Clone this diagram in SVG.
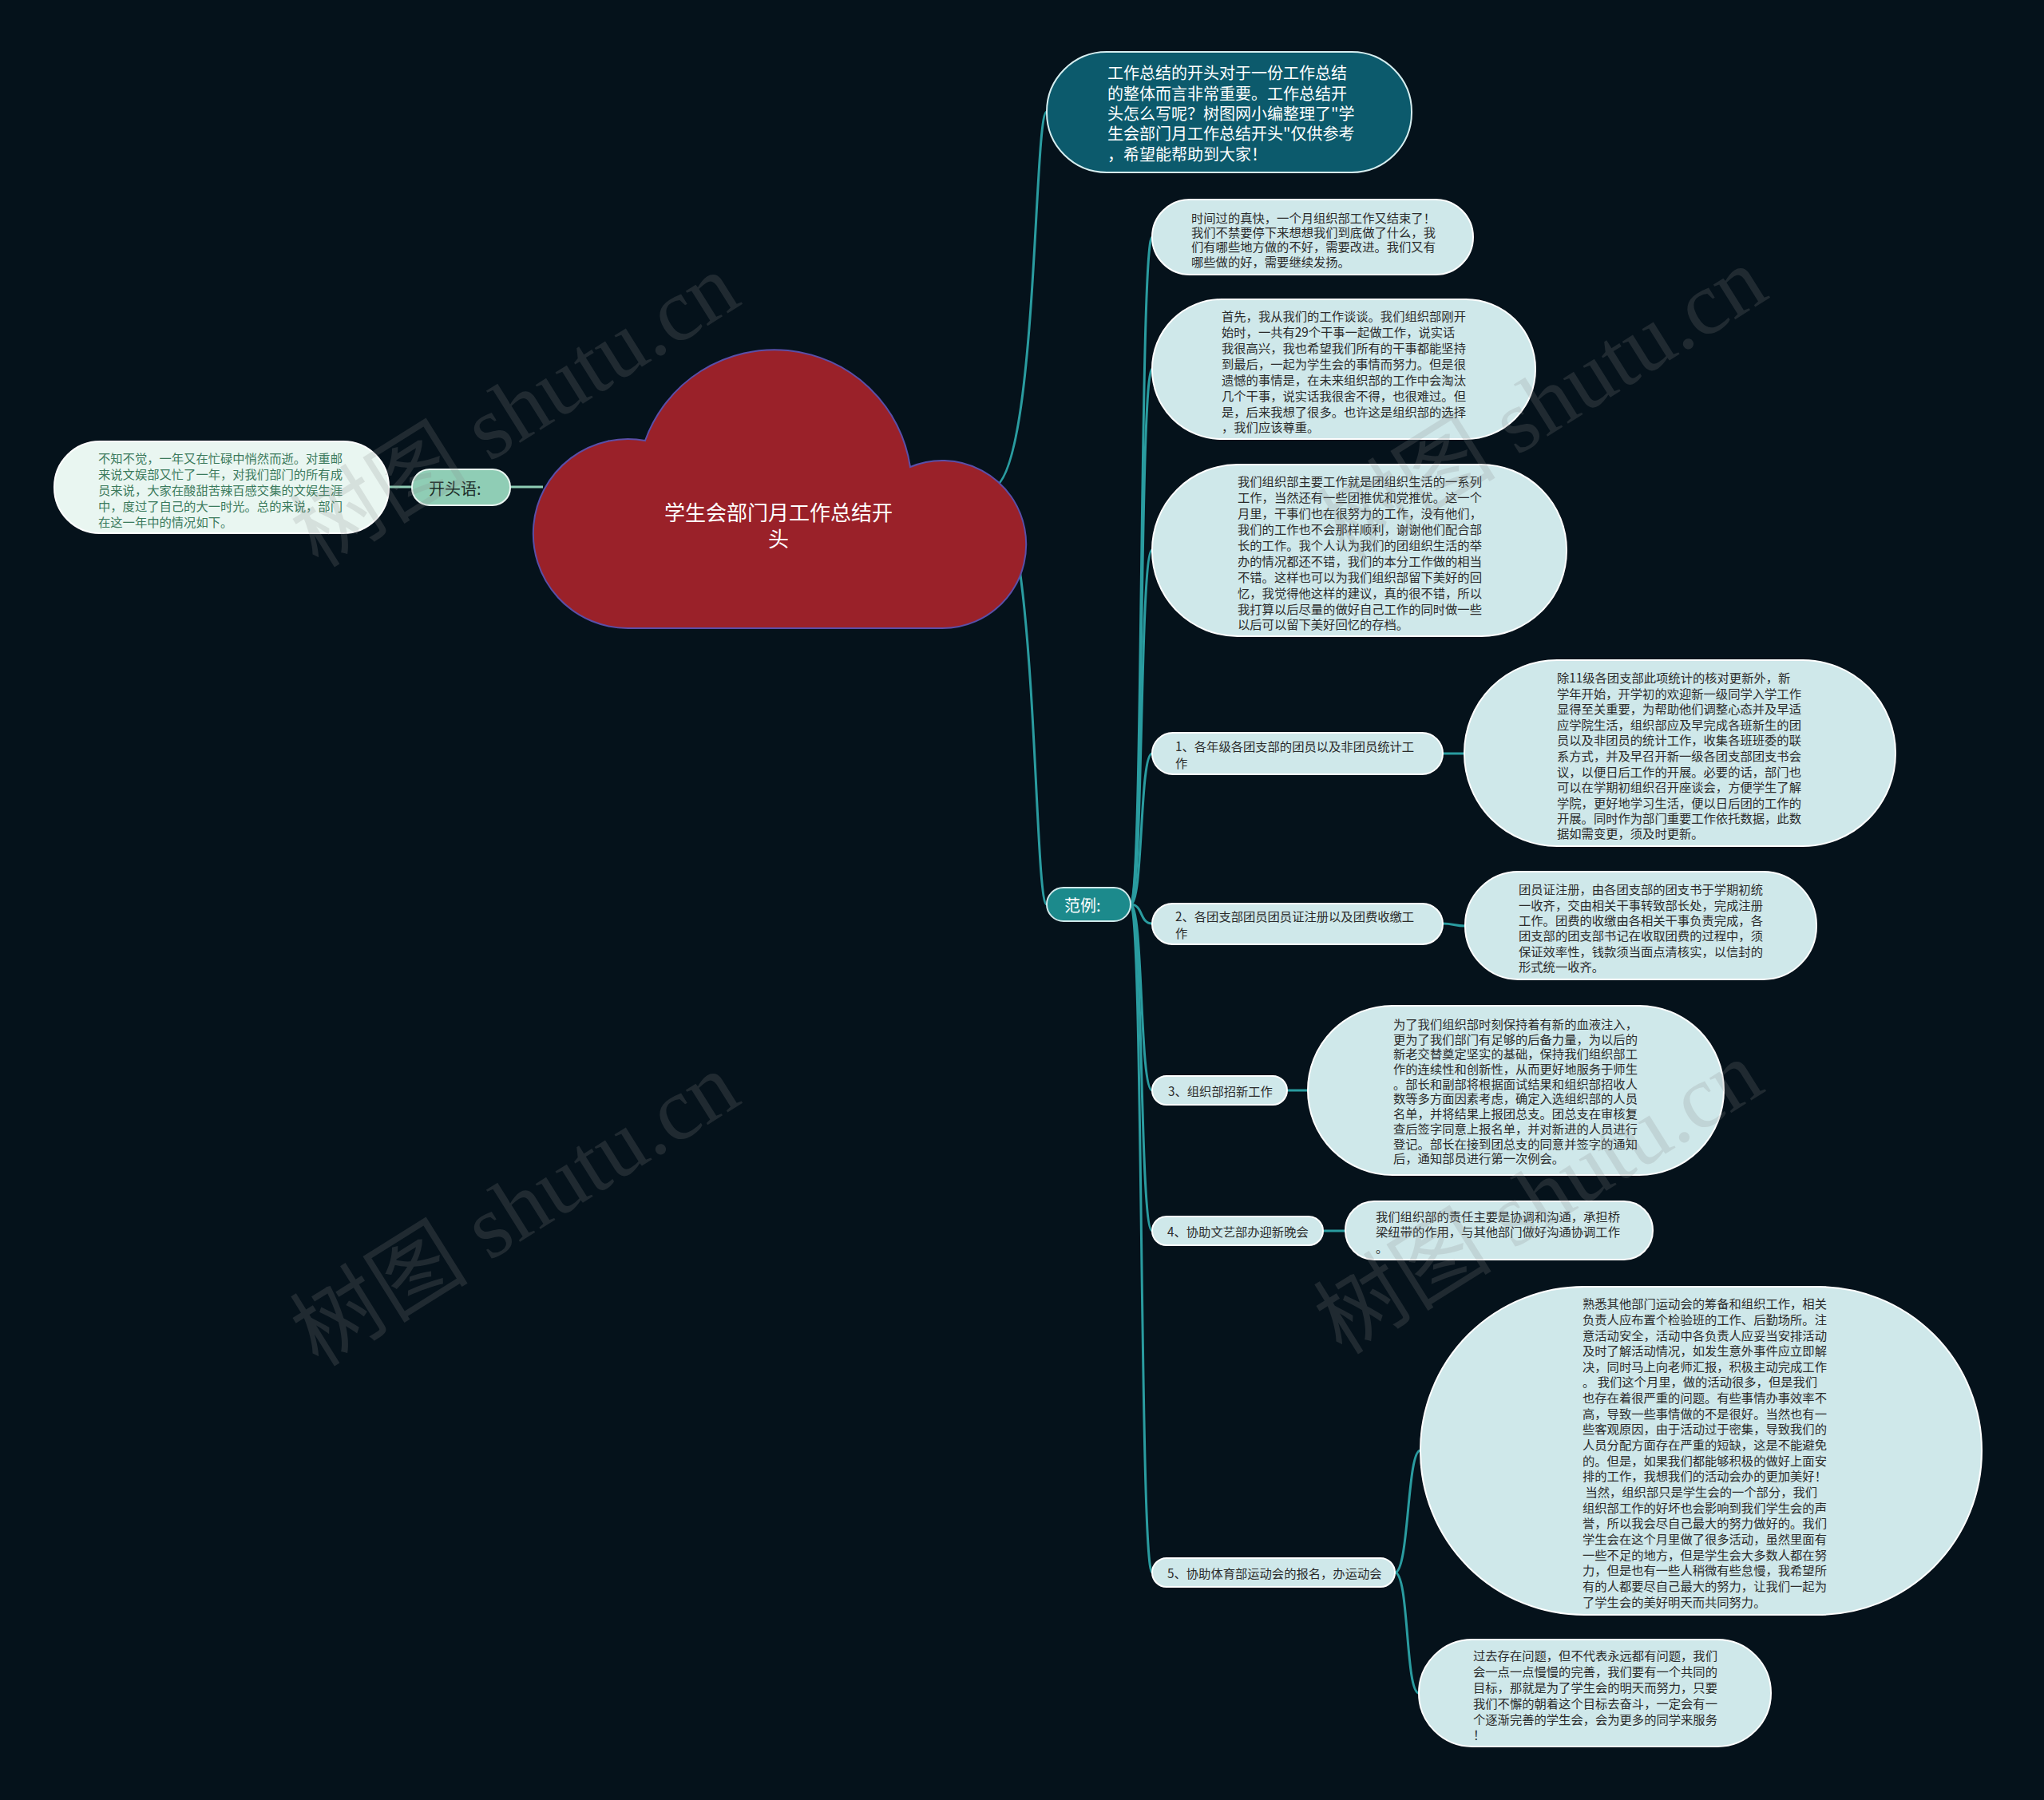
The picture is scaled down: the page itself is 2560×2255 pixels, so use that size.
<svg xmlns="http://www.w3.org/2000/svg" width="2560" height="2255" viewBox="0 0 2560 2255">
<style>
text{font-family:"Noto Sans CJK SC","Noto Sans",sans-serif;dominant-baseline:central}
.lt{fill:#cfe8ea;stroke:#ffffff;stroke-width:2}
.tx{font-size:15.3px;fill:#2b2b2b}
.wm{font-family:"Liberation Serif","Noto Sans CJK SC",serif;font-size:112px;fill:#8a8a8a;opacity:0.2}
.cn{fill:none;stroke:#2a9ca0;stroke-width:3}
</style>
<rect width="2560" height="2255" fill="#05121b"/>
<g id="connectors">
<path class="cn" d="M1240 612 C1300 612,1294 140,1311 140"/>
<path class="cn" d="M1240 612 C1300 612,1294 1133,1311 1133"/>
<path class="cn" d="M1416 1133 C1432 1133,1427 297,1443 297"/>
<path class="cn" d="M1416 1133 C1432 1133,1427 462,1443 462"/>
<path class="cn" d="M1416 1133 C1432 1133,1427 689,1443 689"/>
<path class="cn" d="M1416 1133 C1432 1133,1427 944,1443 944"/>
<path class="cn" d="M1416 1133 C1432 1133,1427 1157,1443 1157"/>
<path class="cn" d="M1416 1133 C1432 1133,1427 1366,1443 1366"/>
<path class="cn" d="M1416 1133 C1432 1133,1427 1542,1443 1542"/>
<path class="cn" d="M1416 1133 C1432 1133,1427 1970,1443 1970"/>
<path class="cn" d="M1807 944 L1834 944"/>
<path class="cn" d="M1807 1157 C1820 1157,1822 1160,1835 1160"/>
<path class="cn" d="M1612 1366 L1638 1366"/>
<path class="cn" d="M1657 1542 L1685 1542"/>
<path class="cn" d="M1747 1970 C1765 1970,1762 1817,1779 1817"/>
<path class="cn" d="M1747 1970 C1765 1970,1760 2121,1777 2121"/>
<path fill="none" stroke="#8fcdb5" stroke-width="3" d="M487 610 L516 610 M639 610 L680 610"/>
</g>
<g id="root">
<path d="M808 552 A172 172 0 0 1 1140 585 A105 105 0 1 1 1179 787 L787 787 A118.5 118.5 0 1 1 808 552 Z" fill="#9a2129" stroke="#5a4fa8" stroke-width="2"/>
<text x="975" y="640" text-anchor="middle" font-size="26" fill="#ffffff">学生会部门月工作总结开</text>
<text x="975" y="673" text-anchor="middle" font-size="26" fill="#ffffff">头</text>
</g>
<g id="intro">
<rect x="1311" y="65" width="457" height="151" rx="75" fill="#0c5a6c" stroke="#d6eef0" stroke-width="2"/>
<text font-size="20" fill="#ffffff"><tspan x="1387" y="90">工作总结的开头对于一份工作总结</tspan><tspan x="1387" y="116">的整体而言非常重要。工作总结开</tspan><tspan x="1387" y="141">头怎么写呢？树图网小编整理了"学</tspan><tspan x="1387" y="166">生会部门月工作总结开头"仅供参考</tspan><tspan x="1387" y="192">，希望能帮助到大家！</tspan></text>
</g>
<g id="opening">
<rect x="516" y="588" width="123" height="45" rx="22" fill="#8fcdb5" stroke="#e8f5f0" stroke-width="2"/>
<text x="537" y="611" font-size="20" fill="#1e2e2a">开头语:</text>
</g>
<g id="opening-text">
<rect x="68" y="553" width="419" height="115" rx="57" fill="#e9f6f1" stroke="#ffffff" stroke-width="2"/>
<text font-size="15.3" fill="#3b7a5c"><tspan x="123" y="573">不知不觉，一年又在忙碌中悄然而逝。对重邮</tspan><tspan x="123" y="593">来说文娱部又忙了一年，对我们部门的所有成</tspan><tspan x="123" y="613">员来说，大家在酸甜苦辣百感交集的文娱生涯</tspan><tspan x="123" y="633">中，度过了自己的大一时光。总的来说，部门</tspan><tspan x="123" y="653">在这一年中的情况如下。</tspan></text>
</g>
<g id="example">
<rect x="1311" y="1112" width="105" height="42" rx="21" fill="#1c8a8c" stroke="#cfe8ea" stroke-width="2"/>
<text x="1333" y="1133" font-size="20" fill="#ffffff">范例:</text>
</g>
<g id="t1">
<rect class="lt" x="1443" y="250" width="402" height="94" rx="47"/>
<text class="tx" font-size="14.9"><tspan x="1492" y="272">时间过的真快，一个月组织部工作又结束了！</tspan><tspan x="1492" y="290">我们不禁要停下来想想我们到底做了什么，我</tspan><tspan x="1492" y="308">们有哪些地方做的不好，需要改进。我们又有</tspan><tspan x="1492" y="327">哪些做的好，需要继续发扬。</tspan></text>
</g>
<g id="t2">
<rect class="lt" x="1443" y="375" width="480" height="175" rx="87"/>
<text class="tx"><tspan x="1530" y="395">首先，我从我们的工作谈谈。我们组织部刚开</tspan><tspan x="1530" y="415">始时，一共有29个干事一起做工作，说实话</tspan><tspan x="1530" y="435">我很高兴，我也希望我们所有的干事都能坚持</tspan><tspan x="1530" y="455">到最后，一起为学生会的事情而努力。但是很</tspan><tspan x="1530" y="475">遗憾的事情是，在未来组织部的工作中会淘汰</tspan><tspan x="1530" y="495">几个干事，说实话我很舍不得，也很难过。但</tspan><tspan x="1530" y="515">是，后来我想了很多。也许这是组织部的选择</tspan><tspan x="1530" y="534">，我们应该尊重。</tspan></text>
</g>
<g id="t3">
<rect class="lt" x="1443" y="582" width="519" height="215" rx="107"/>
<text class="tx"><tspan x="1550" y="602">我们组织部主要工作就是团组织生活的一系列</tspan><tspan x="1550" y="622">工作，当然还有一些团推优和党推优。这一个</tspan><tspan x="1550" y="642">月里，干事们也在很努力的工作，没有他们，</tspan><tspan x="1550" y="662">我们的工作也不会那样顺利，谢谢他们配合部</tspan><tspan x="1550" y="682">长的工作。我个人认为我们的团组织生活的举</tspan><tspan x="1550" y="702">办的情况都还不错，我们的本分工作做的相当</tspan><tspan x="1550" y="722">不错。这样也可以为我们组织部留下美好的回</tspan><tspan x="1550" y="742">忆，我觉得他这样的建议，真的很不错，所以</tspan><tspan x="1550" y="762">我打算以后尽量的做好自己工作的同时做一些</tspan><tspan x="1550" y="781">以后可以留下美好回忆的存档。</tspan></text>
</g>
<g id="sub1">
<rect class="lt" x="1443" y="918" width="364" height="52" rx="26"/>
<text class="tx"><tspan x="1472" y="934">1、各年级各团支部的团员以及非团员统计工</tspan><tspan x="1472" y="955">作</tspan></text>
</g>
<g id="sub2">
<rect class="lt" x="1443" y="1132" width="364" height="51" rx="25.5"/>
<text class="tx"><tspan x="1472" y="1147">2、各团支部团员团员证注册以及团费收缴工</tspan><tspan x="1472" y="1168">作</tspan></text>
</g>
<g id="sub3">
<rect class="lt" x="1443" y="1348" width="169" height="36" rx="18"/>
<text class="tx" x="1463" y="1366">3、组织部招新工作</text>
</g>
<g id="sub4">
<rect class="lt" x="1443" y="1524" width="214" height="36" rx="18"/>
<text class="tx" x="1462" y="1542">4、协助文艺部办迎新晚会</text>
</g>
<g id="sub5">
<rect class="lt" x="1443" y="1952" width="304" height="36" rx="18"/>
<text class="tx" x="1462" y="1970">5、协助体育部运动会的报名，办运动会</text>
</g>
<g id="d1">
<rect class="lt" x="1834" y="827" width="540" height="233" rx="116"/>
<text class="tx"><tspan x="1950" y="848">除11级各团支部此项统计的核对更新外，新</tspan><tspan x="1950" y="868">学年开始，开学初的欢迎新一级同学入学工作</tspan><tspan x="1950" y="887">显得至关重要，为帮助他们调整心态并及早适</tspan><tspan x="1950" y="907">应学院生活，组织部应及早完成各班新生的团</tspan><tspan x="1950" y="926">员以及非团员的统计工作，收集各班班委的联</tspan><tspan x="1950" y="946">系方式，并及早召开新一级各团支部团支书会</tspan><tspan x="1950" y="966">议，以便日后工作的开展。必要的话，部门也</tspan><tspan x="1950" y="985">可以在学期初组织召开座谈会，方便学生了解</tspan><tspan x="1950" y="1005">学院，更好地学习生活，便以日后团的工作的</tspan><tspan x="1950" y="1024">开展。同时作为部门重要工作依托数据，此数</tspan><tspan x="1950" y="1043">据如需变更，须及时更新。</tspan></text>
</g>
<g id="d2">
<rect class="lt" x="1835" y="1092" width="440" height="135" rx="67"/>
<text class="tx"><tspan x="1902" y="1113">团员证注册，由各团支部的团支书于学期初统</tspan><tspan x="1902" y="1133">一收齐，交由相关干事转致部长处，完成注册</tspan><tspan x="1902" y="1152">工作。团费的收缴由各相关干事负责完成，各</tspan><tspan x="1902" y="1171">团支部的团支部书记在收取团费的过程中，须</tspan><tspan x="1902" y="1191">保证效率性，钱款须当面点清核实，以信封的</tspan><tspan x="1902" y="1210">形式统一收齐。</tspan></text>
</g>
<g id="d3">
<rect class="lt" x="1638" y="1260" width="521" height="212" rx="106"/>
<text class="tx"><tspan x="1745" y="1282">为了我们组织部时刻保持着有新的血液注入，</tspan><tspan x="1745" y="1301">更为了我们部门有足够的后备力量，为以后的</tspan><tspan x="1745" y="1319">新老交替奠定坚实的基础，保持我们组织部工</tspan><tspan x="1745" y="1338">作的连续性和创新性，从而更好地服务于师生</tspan><tspan x="1745" y="1357">。部长和副部将根据面试结果和组织部招收人</tspan><tspan x="1745" y="1375">数等多方面因素考虑，确定入选组织部的人员</tspan><tspan x="1745" y="1394">名单，并将结果上报团总支。团总支在审核复</tspan><tspan x="1745" y="1413">查后签字同意上报名单，并对新进的人员进行</tspan><tspan x="1745" y="1432">登记。部长在接到团总支的同意并签字的通知</tspan><tspan x="1745" y="1450">后，通知部员进行第一次例会。</tspan></text>
</g>
<g id="d4">
<rect class="lt" x="1685" y="1505" width="385" height="73" rx="36"/>
<text class="tx"><tspan x="1723" y="1523">我们组织部的责任主要是协调和沟通，承担桥</tspan><tspan x="1723" y="1542">梁纽带的作用，与其他部门做好沟通协调工作</tspan><tspan x="1723" y="1562">。</tspan></text>
</g>
<g id="d5">
<rect class="lt" x="1779" y="1612" width="703" height="411" rx="205"/>
<text class="tx" style="white-space:pre"><tspan x="1982" y="1632">熟悉其他部门运动会的筹备和组织工作，相关</tspan><tspan x="1982" y="1652">负责人应布置个检验班的工作、后勤场所。注</tspan><tspan x="1982" y="1672">意活动安全，活动中各负责人应妥当安排活动</tspan><tspan x="1982" y="1691">及时了解活动情况，如发生意外事件应立即解</tspan><tspan x="1982" y="1711">决，同时马上向老师汇报，积极主动完成工作</tspan><tspan x="1982" y="1730">。 我们这个月里，做的活动很多，但是我们</tspan><tspan x="1982" y="1750">也存在着很严重的问题。有些事情办事效率不</tspan><tspan x="1982" y="1770">高，导致一些事情做的不是很好。当然也有一</tspan><tspan x="1982" y="1789">些客观原因，由于活动过于密集，导致我们的</tspan><tspan x="1982" y="1809">人员分配方面存在严重的短缺，这是不能避免</tspan><tspan x="1982" y="1829">的。但是，如果我们都能够积极的做好上面安</tspan><tspan x="1982" y="1848">排的工作，我想我们的活动会办的更加美好！</tspan><tspan x="1982" y="1868"> 当然，组织部只是学生会的一个部分，我们</tspan><tspan x="1982" y="1888">组织部工作的好坏也会影响到我们学生会的声</tspan><tspan x="1982" y="1907">誉，所以我会尽自己最大的努力做好的。我们</tspan><tspan x="1982" y="1927">学生会在这个月里做了很多活动，虽然里面有</tspan><tspan x="1982" y="1947">一些不足的地方，但是学生会大多数人都在努</tspan><tspan x="1982" y="1966">力，但是也有一些人稍微有些怠慢，我希望所</tspan><tspan x="1982" y="1986">有的人都要尽自己最大的努力，让我们一起为</tspan><tspan x="1982" y="2006">了学生会的美好明天而共同努力。</tspan></text>
</g>
<g id="d6">
<rect class="lt" x="1777" y="2054" width="441" height="134" rx="67"/>
<text class="tx"><tspan x="1845" y="2073">过去存在问题，但不代表永远都有问题，我们</tspan><tspan x="1845" y="2093">会一点一点慢慢的完善，我们要有一个共同的</tspan><tspan x="1845" y="2113">目标，那就是为了学生会的明天而努力，只要</tspan><tspan x="1845" y="2133">我们不懈的朝着这个目标去奋斗，一定会有一</tspan><tspan x="1845" y="2153">个逐渐完善的学生会，会为更多的同学来服务</tspan><tspan x="1845" y="2172">！</tspan></text>
</g>
<g id="watermarks">
<text class="wm" text-anchor="middle" transform="translate(645 514) rotate(-32)">树图 shutu.cn</text>
<text class="wm" text-anchor="middle" transform="translate(645 1515) rotate(-32)">树图 shutu.cn</text>
<text class="wm" text-anchor="middle" transform="translate(1932 506) rotate(-32)">树图 shutu.cn</text>
<text class="wm" text-anchor="middle" transform="translate(1927 1500) rotate(-32)">树图 shutu.cn</text>
</g>
</svg>
